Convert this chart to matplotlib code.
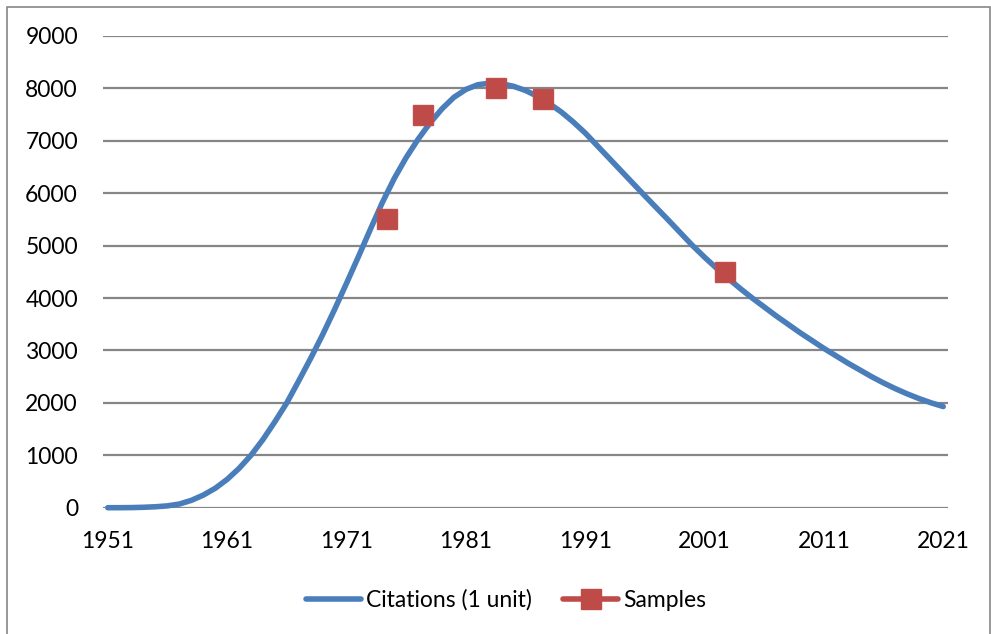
import matplotlib
matplotlib.use("Agg")
import matplotlib.pyplot as plt
from matplotlib.patches import Rectangle
from matplotlib.lines import Line2D

# curve, one value per year
years = list(range(1951, 2022))
citations = [
    0, 0, 2, 8, 18, 35, 70, 140, 240, 370,                      # 1951-1960
    540, 750, 1000, 1300, 1640, 2000, 2420, 2850, 3300, 3780,   # 1961-1970
    4280, 4790, 5310, 5820, 6280, 6680, 7030, 7340, 7610, 7830,  # 1971-1980
    7980, 8070, 8100, 8090, 8040, 7960, 7850, 7710, 7550, 7360,  # 1981-1990
    7150, 6910, 6670, 6430, 6190, 5950, 5715, 5480, 5240, 5000,  # 1991-2000
    4780, 4570, 4370, 4180, 4000, 3830, 3660, 3500, 3340, 3190,  # 2001-2010
    3040, 2900, 2760, 2630, 2500, 2380, 2270, 2170, 2080, 2000,  # 2011-2020
    1930,                                                        # 2021
]

sample_years = [1974.4, 1977.4, 1983.5, 1987.5, 2002.7]
sample_values = [5500, 7500, 8000, 7800, 4500]

xtick_labels = [1951, 1961, 1971, 1981, 1991, 2001, 2011, 2021]
yticks = list(range(0, 10000, 1000))

blue = "#4A7EBB"
red = "#BE4B48"
grey = "#868686"

plt.rcParams['font.family'] = ['Lato', 'DejaVu Sans']
plt.rcParams['font.size'] = 16.5

fig = plt.figure(figsize=(9.91, 6.34), dpi=100)
ax = fig.add_axes([103/991, (634-507.7)/634, 845/991, (507.7-36)/634])

ax.plot(years, citations, color=blue, lw=4, solid_capstyle='round',
        solid_joinstyle='round', label="Citations (1 unit)", clip_on=False, zorder=3)
ax.plot(sample_years, sample_values, color=red, marker='s', ms=14,
        mec="#C0504D", linestyle='none', label="Samples", zorder=4, clip_on=False)

ax.set_xlim(1950.6, 2021.4)
ax.set_ylim(0, 9000)
ax.set_xticks(xtick_labels)
ax.set_yticks(yticks)
ax.yaxis.grid(True, color=grey, lw=1.6)
ax.set_axisbelow(True)
for s in ax.spines.values():
    s.set_visible(False)
ax.tick_params(axis='both', length=0)
ax.tick_params(axis='y', pad=18)
ax.tick_params(axis='x', pad=17)

# legend: red entry shown with a line through the marker, like Excel
h1 = Line2D([], [], color=blue, lw=4, solid_capstyle='round')
h2 = Line2D([], [], color=red, lw=4, marker='s', ms=14, solid_capstyle='round')
fig.legend([h1, h2], ["Citations (1 unit)", "Samples"], loc='center',
           bbox_to_anchor=(506/991, 1 - 600/634), ncol=2, frameon=False,
           handlelength=2.4, handletextpad=0.2, columnspacing=1.4)

# outer chart frame
fig.patches.append(Rectangle((7/991, -0.05), (990-7)/991, 1.05 - 7/634,
                             transform=fig.transFigure, fill=False,
                             edgecolor=grey, lw=1.2))

fig.savefig("out.png", dpi=100)
